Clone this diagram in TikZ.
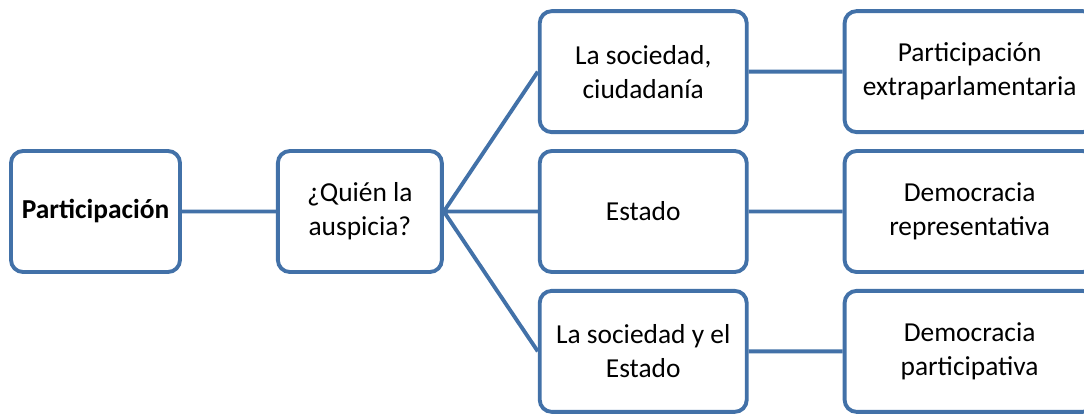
\documentclass[tikz,border=0pt]{standalone}
\usepackage{fontspec}
\setmainfont{Carlito}
\usepackage{tikz}
\usetikzlibrary{ positioning }
\definecolor{smartblue}{RGB}{66,113,168}
\tikzset{
node distance=1.88cm, % horizontal space between columns
box/.style={draw=smartblue, line width=2.2pt, rounded corners=0.24cm, fill=white,
  minimum height=2.42cm, align=center, font=\fontsize{15.6}{19.4}\selectfont}, % every box
link/.style={draw=smartblue, line width=2.2pt}, % connecting lines
}

\begin{document}
\begin{tikzpicture}
  \useasboundingbox (0,0) rectangle (21.68,8.3);%fix the page size
  \node[box, minimum width=3.38cm] (part) at (1.91,4.07) {\textbf{Participación}};
  \node[box, minimum width=3.28cm, right=of part] (quien) {¿Quién la\\auspicia?};
  \node[box, minimum width=4.14cm, right=of quien] (estado) {Estado};
  \node[box, minimum width=4.14cm, above=0.3cm of estado] (soc) {La sociedad,\\ciudadanía};
  \node[box, minimum width=4.14cm, below=0.3cm of estado] (socest) {La sociedad y el\\Estado};
  \node[box, minimum width=5cm, right=of estado] (repr) {Democracia\\representativa};
  \node[box, minimum width=5cm, right=of soc] (extra) {Participación\\extraparlamentaria};
  \node[box, minimum width=5cm, right=of socest] (partic) {Democracia\\participativa};

  \path[link]
  (part) -- (quien)
  (quien.east) -- (soc.west)
  (quien.east) -- (estado.west)
  (quien.east) -- (socest.west)
  (soc) -- (extra)
  (estado) -- (repr)
  (socest) -- (partic);
\end{tikzpicture}
\end{document}
